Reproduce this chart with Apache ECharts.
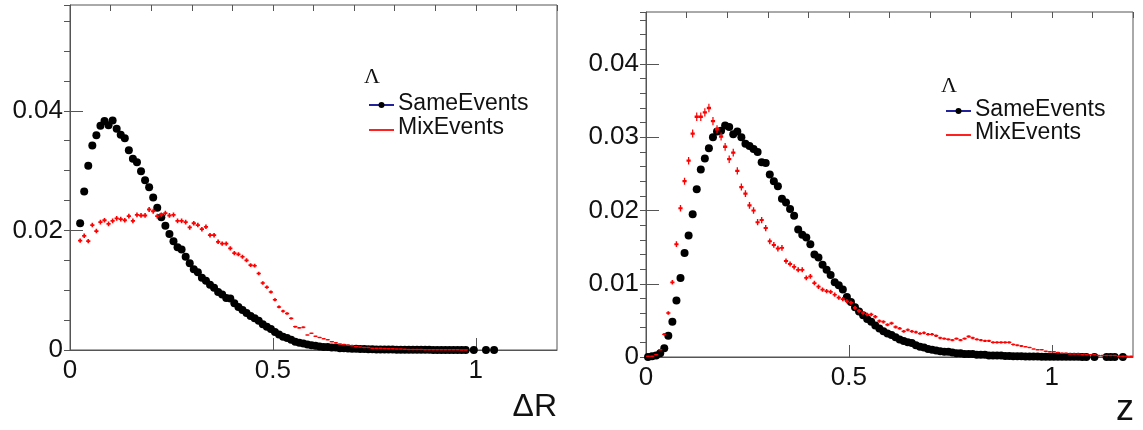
<!DOCTYPE html>
<html>
<head>
<meta charset="utf-8">
<script src="https://cdn.jsdelivr.net/npm/echarts@6/dist/echarts.min.js"></script>
<style>
html,body{margin:0;padding:0;background:#fff;}
#chart{width:1143px;height:430px;}
</style>
</head>
<body>
<div id="chart"></div>
<script>
// ---------------- data ----------------
const binWidth = 0.01;
// Left panel (ΔR): bins start at centre 0.025
const leftBinStart = 0.025;
const leftSame = [
0.0212,0.0265,0.0308,0.0342,0.0359,0.0375,0.0383,0.0376,0.0384,0.0370,
0.0360,0.0354,0.0334,0.0320,0.0314,0.0299,0.0284,0.0272,0.0255,0.0238,
0.0222,0.0208,0.0194,0.0182,0.0172,0.0168,0.0156,0.0145,0.0135,0.0130,
0.0121,0.0116,0.0109,0.0104,0.0097,0.0093,0.0087,0.0086,0.0078,0.0072,
0.0067,0.0062,0.0057,0.0053,0.0049,0.0043,0.0039,0.0035,0.0030,0.0026,
0.0022,0.0020,0.0017,0.0014,0.0012,0.0011,0.0009,0.0008,0.0007,0.0006,
0.0005,0.0005,0.0004,0.0004,0.0003,0.0003,0.00025,0.0002,0.0002,0.00018,
0.00015,0.00013,0.00012,0.0001,0.0001,0.00009,0.00008,0.00007,0.00006,0.00006,
0.00005,0.00005,0.00004,0.00004,0.00003,0.00003,0.00003,0.00002,0.00002,0.00002,
0.00002,0.00001,0.00001,0.00001,0.00001,0.00001,null,0.00001,null,null,
0.00001,null,0.00001
];
const leftMix = [
0.0183,0.0191,0.0182,0.0209,0.0199,0.0214,0.0217,0.0211,0.0216,0.0220,
0.0219,0.0217,0.0224,0.0216,0.0226,0.0225,0.0225,0.0235,0.0232,0.0224,
0.0226,0.0229,0.0225,0.0226,0.0216,0.0216,0.0214,0.0205,0.0212,0.0209,
0.0202,0.0206,0.0192,0.0192,0.0181,0.0178,0.0178,0.0170,0.0162,0.0160,
0.0156,0.0150,0.0142,0.0141,0.0128,0.0112,0.0105,0.0097,0.0084,0.0072,
0.0065,0.0061,0.0053,0.0039,0.0037,0.0038,0.0025,0.0028,0.0023,0.0021,
0.0019,0.0017,0.0014,0.0012,0.0010,0.0009,0.0008,0.0007,0.0006,0.0005,
0.0004,0.0004,0.0003,0.0003,0.0003,0.00025,0.0002,0.0002,0.00015,0.00015,
0.00012,0.0001,0.0001,0.00008,0.00008,0.00006,0.00006,0.00005,0.00005,0.00004,
0.00004,0.00003,0.00003,0.00003,0.00002,0.00002
];
// Right panel (z): bins start at centre 0.005
const rightBinStart = 0.005;
const rightSame = [
0.0000,0.0001,0.0002,0.0005,0.0012,0.0029,0.0048,0.0077,0.0108,0.0142,
0.0166,0.0195,0.0229,0.0256,0.0271,0.0285,0.0300,0.0308,0.0309,0.0316,
0.0314,0.0304,0.0308,0.0300,0.0291,0.0288,0.0284,0.0280,0.0266,0.0265,
0.0249,0.0240,0.0233,0.0216,0.0211,0.0202,0.0193,0.0174,0.0167,0.0163,
0.0154,0.0140,0.0136,0.0126,0.0119,0.0112,0.0102,0.0098,0.0092,0.0082,
0.0075,0.0068,0.0062,0.0057,0.0052,0.0048,0.0043,0.0039,0.0035,0.0032,
0.0030,0.0027,0.0024,0.0022,0.0020,0.0019,0.0016,0.0014,0.0013,0.0011,
0.0010,0.0009,0.0008,0.0007,0.0007,0.0006,0.0005,0.0005,0.0004,0.0004,
0.0004,0.0003,0.0003,0.0003,0.0002,0.0002,0.0002,0.0002,0.00015,0.00012,
0.0001,0.0001,0.0001,0.00008,0.00008,0.00006,0.00006,0.00005,0.00005,0.00004,
0.00004,0.00003,0.00003,0.00002,0.00002,0.00002,0.00002,0.00001,0.00001,null,
0.00001,null,null,0.00001,0.00001,0.00001,null,0.00001
];
const rightMix = [
0.0001,0.0001,0.0003,0.0010,0.0031,0.0060,0.0102,0.0154,0.0203,0.0240,
0.0268,0.0305,0.0328,0.0328,0.0334,0.0340,0.0322,0.0311,0.0301,0.0287,
0.0270,0.0279,0.0254,0.0232,0.0223,0.0207,0.0200,0.0184,0.0187,0.0176,
0.0158,0.0153,0.0148,0.0149,0.0131,0.0127,0.0123,0.0119,0.0119,0.0108,
0.0110,0.0101,0.0096,0.0092,0.0090,0.0089,0.0085,0.0081,0.0079,0.0076,
0.0074,0.0067,0.0063,0.0060,0.0058,0.0058,0.0055,0.0049,0.0048,0.0044,
0.0046,0.0041,0.0039,0.0035,0.0037,0.0035,0.0034,0.0032,0.0033,0.0031,
0.0031,0.0029,0.0026,0.0025,0.0024,0.0023,0.0025,0.0023,0.0025,0.0028,
0.0026,0.0024,0.0023,0.0022,0.0022,0.0020,0.0020,0.0020,0.0020,0.0020,
0.0017,0.0016,0.0015,0.0014,0.0013,0.0011,0.0010,0.0010,0.0008,0.0007,
0.0007,0.0006,0.0005,0.0005,0.0004,0.0004,0.0004,0.0003,0.0003,0.0003,
0.0003,0.0002,0.0002,0.0002,0.0002,0.0002,0.0001,0.0001,0.0001,0.0001
];
const seriesNames = ['SameEvents','MixEvents'];
const particleLabel = 'Λ';
const axisTitles = ['ΔR','z'];
const xRange = [0, 1.2];
const leftYMax = 0.0577;
const rightYMax = 0.0471;

// ---------------- helpers ----------------
function toPoints(start, arr){
  const out = [];
  arr.forEach((v,i)=>{ if(v!==null) out.push([+(start + i*binWidth).toFixed(4), v]); });
  return out;
}
const FONT = '"Liberation Sans", Arial, Helvetica, sans-serif';
const grids = [
  {left:70, top:5, width:487, height:345},
  {left:646, top:12, width:487, height:345}
];

function xAxes(gi){
  return [
    { gridIndex:gi, type:'value', min:xRange[0], max:xRange[1], interval:0.5,
      axisLine:{show:true, onZero:false, lineStyle:{color:'#555', width:1}},
      axisTick:{show:true, inside:true, length:12, lineStyle:{color:'#555'}},
      axisLabel:{show:true, margin:8, color:'#111', fontSize:26, fontFamily:FONT, showMaxLabel:false},
      splitLine:{show:false}},
    { gridIndex:gi, type:'value', min:xRange[0], max:xRange[1], interval:0.1,
      axisLine:{show:false, onZero:false},
      axisTick:{show:true, inside:true, length:6, lineStyle:{color:'#555'}},
      axisLabel:{show:false}, splitLine:{show:false}}
  ];
}
function yAxes(gi, max, major, minor){
  return [
    { gridIndex:gi, type:'value', min:0, max:max, interval:major,
      axisLine:{show:true, lineStyle:{color:'#555', width:1}},
      axisTick:{show:true, inside:true, length:13, lineStyle:{color:'#555'}},
      axisLabel:{show:true, margin:7, color:'#111', fontSize:26, fontFamily:FONT, showMaxLabel:false,
        formatter:(v)=> String(+v.toFixed(4))},
      splitLine:{show:false}},
    { gridIndex:gi, type:'value', min:0, max:max, interval:minor,
      axisLine:{show:false},
      axisTick:{show:true, inside:true, length:6, lineStyle:{color:'#555'}},
      axisLabel:{show:false}, splitLine:{show:false}}
  ];
}
const crossPath = 'path://M0,50L100,50M50,0L50,100';
function sameSeries(xi, yi, data){
  return { name:seriesNames[0], type:'scatter', xAxisIndex:xi, yAxisIndex:yi, data:data,
    symbol:'circle', symbolSize:8, itemStyle:{color:'#000', opacity:1}, z:3, silent:true };
}
function mixSeries(xi, yi, data, k){
  return { name:seriesNames[1], type:'scatter', xAxisIndex:xi, yAxisIndex:yi, data:data,
    symbol:crossPath, symbolKeepAspect:false,
    symbolSize:(v)=>[4.2, Math.max(1.5, k*Math.sqrt(v[1]))],
    itemStyle:{color:'rgba(0,0,0,0)', borderColor:'#ff0000', borderWidth:1.7, opacity:1}, z:4, silent:true };
}

function legendGraphics(x0, yTitle, y1, y2){
  const lineX0 = x0, lineX1 = x0 + 25, textX = x0 + 29;
  return [
    {type:'text', style:{text:particleLabel, x:x0-5, y:yTitle, fill:'#111', font:'22px "Liberation Serif", serif',
      textAlign:'left', textVerticalAlign:'middle', align:'left', verticalAlign:'middle'}},
    {type:'line', shape:{x1:lineX0, y1:y1+1, x2:lineX1, y2:y1+1}, style:{stroke:'#22229a', lineWidth:2}},
    {type:'circle', shape:{cx:(lineX0+lineX1)/2, cy:y1+1, r:3}, style:{fill:'#000'}},
    {type:'text', style:{text:seriesNames[0], x:textX, y:y1, fill:'#111', font:'23px '+FONT,
      textAlign:'left', textVerticalAlign:'middle', align:'left', verticalAlign:'middle'}},
    {type:'line', shape:{x1:lineX0, y1:y2+2, x2:lineX1, y2:y2+2}, style:{stroke:'#ff2020', lineWidth:2}},
    {type:'text', style:{text:seriesNames[1], x:textX, y:y2, fill:'#111', font:'23px '+FONT,
      textAlign:'left', textVerticalAlign:'middle', align:'left', verticalAlign:'middle'}}
  ];
}

const option = {
  animation:false,
  backgroundColor:'#fff',
  grid: grids.map(g=>Object.assign({show:true, borderColor:'#555', borderWidth:1, backgroundColor:'transparent'}, g)),
  xAxis: [].concat(xAxes(0), xAxes(1)),
  yAxis: [].concat(yAxes(0, leftYMax, 0.02, 0.005), yAxes(1, rightYMax, 0.01, 0.002)),
  series: [
    mixSeries(0, 0, toPoints(leftBinStart, leftMix), 32),
    sameSeries(0, 0, toPoints(leftBinStart, leftSame)),
    mixSeries(2, 2, toPoints(rightBinStart, rightMix), 46),
    sameSeries(2, 2, toPoints(rightBinStart, rightSame))
  ],
  graphic: [].concat(
    legendGraphics(369, 77, 104, 128),
    legendGraphics(946, 86, 110, 133),
    [
      {type:'text', style:{text:axisTitles[0], x:557, y:407, fill:'#111', font:'32px '+FONT,
        textAlign:'right', textVerticalAlign:'middle', align:'right', verticalAlign:'middle'}},
      {type:'text', style:{text:axisTitles[1], x:1134, y:410, fill:'#111', font:'36px '+FONT,
        textAlign:'right', textVerticalAlign:'middle', align:'right', verticalAlign:'middle'}}
    ]
  )
};
const chart = echarts.init(document.getElementById('chart'), null, {renderer:'canvas'});
chart.setOption(option);
</script>
</body>
</html>
